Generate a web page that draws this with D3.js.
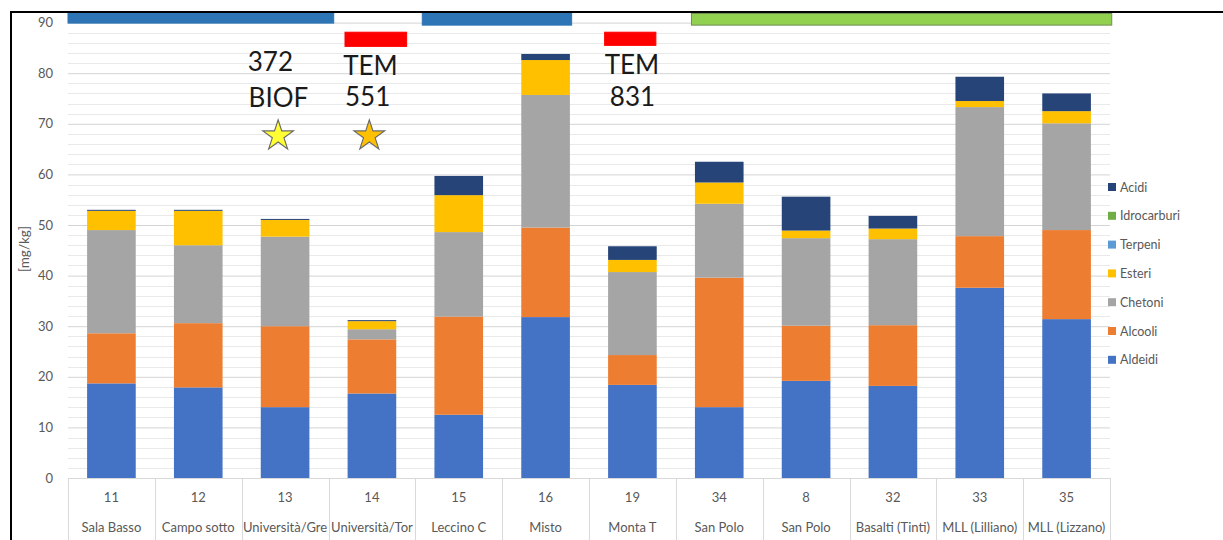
<!DOCTYPE html>
<html>
<head>
<meta charset="utf-8">
<script src="https://cdn.jsdelivr.net/npm/d3@7"></script>
<style>
  body { margin: 0; background: #fff; }
  svg { display: block; font-family: Lato, "Open Sans", sans-serif; }
</style>
</head>
<body>
<div id="chart"></div>
<script>
// categories (code + site name)
var codes = ["11", "12", "13", "14", "15", "16", "19", "34", "8", "32", "33", "35"];
var sites = ["Sala Basso", "Campo sotto", "Università/Gre", "Università/Tor", "Leccino C", "Misto",
             "Monta T", "San Polo", "San Polo", "Basalti (Tinti)", "MLL (Lilliano)", "MLL (Lizzano)"];

// series values [mg/kg], stacked bottom to top
var aldeidi     = [18.7, 17.9, 14.0, 16.7, 12.5, 31.8, 18.4, 14.0, 19.2, 18.2, 37.6, 31.4];
var alcooli     = [ 9.9, 12.7, 16.0, 10.7, 19.4, 17.7,  5.9, 25.6, 10.9, 12.0, 10.2, 17.6];
var chetoni     = [20.4, 15.4, 17.7,  2.0, 16.7, 26.2, 16.4, 14.6, 17.3, 17.0, 25.5, 21.1];
var esteri      = [ 3.8,  6.8,  3.3,  1.6,  7.3,  6.9,  2.4,  4.2,  1.5,  2.1,  1.2,  2.4];
var terpeni     = [ 0,    0,    0,    0,    0,    0,    0,    0,    0,    0,    0,    0  ];
var idrocarburi = [ 0,    0,    0,    0,    0,    0,    0,    0,    0,    0,    0,    0  ];
var acidi       = [ 0.2,  0.2,  0.2,  0.2,  3.8,  1.2,  2.7,  4.1,  6.7,  2.5,  4.8,  3.5];

var seriesNames = ["Aldeidi", "Alcooli", "Chetoni", "Esteri", "Terpeni", "Idrocarburi", "Acidi"];
var seriesValues = [aldeidi, alcooli, chetoni, esteri, terpeni, idrocarburi, acidi];
var seriesColors = ["#4472C4", "#ED7D31", "#A5A5A5", "#FFC000", "#5B9BD5", "#70AD47", "#264478"];

var yTicks = [0, 10, 20, 30, 40, 50, 60, 70, 80, 90];

// annotations drawn over the chart (x in category units, y in mg/kg)
var spanBars = [
  {x0: 0.00, x1: 3.06, y0: 89.9, y1: 91.8, color: "#2E75B6", stroke: "#2E75B6"},
  {x0: 4.08, x1: 5.80, y0: 89.5, y1: 91.8, color: "#2E75B6", stroke: "#2E75B6"},
  {x0: 7.18, x1: 12.02, y0: 89.5, y1: 91.8, color: "#92D050", stroke: "#6F8F55"},
  {x0: 3.19, x1: 3.90, y0: 85.3, y1: 88.1, color: "#FF0000", stroke: "#FF0000"},
  {x0: 6.18, x1: 6.77, y0: 85.5, y1: 88.1, color: "#FF0000", stroke: "#FF0000"}
];
var noteTexts = [
  {x: 2.07, y: 80.4, text: "372"},
  {x: 2.08, y: 73.3, text: "BIOF"},
  {x: 3.17, y: 79.7, text: "TEM"},
  {x: 3.19, y: 73.6, text: "551"},
  {x: 6.18, y: 79.9, text: "TEM"},
  {x: 6.24, y: 73.5, text: "831"}
];
var stars = [
  {x: 2.42, y: 68.0, color: "#FFFF33"},
  {x: 3.47, y: 68.0, color: "#FFC000"}
];

var W = 1223, H = 540;
var svg = d3.select("#chart").append("svg").attr("width", W).attr("height", H);

var x = d3.scaleBand().domain(codes).range([68, 1110]).paddingInner(0.44).paddingOuter(0.22);
var xi = d3.scaleLinear().domain([0, codes.length]).range([68, 1110]);
var y = d3.scaleLinear().domain([0, 90]).range([478, 22.6]);

// outer frame
svg.append("rect")
  .attr("x", 11).attr("y", 12)
  .attr("width", W + 20).attr("height", H + 20)
  .style("fill", "none").style("stroke", "#000").style("stroke-width", 2);

// minor gridlines every 2
svg.append("g").selectAll("line")
  .data(d3.range(2, 91, 2).filter(function(d) { return d % 10 !== 0; }))
  .enter().append("line")
  .attr("x1", 68).attr("x2", 1110)
  .attr("y1", function(d) { return Math.round(y(d)) + 0.5; })
  .attr("y2", function(d) { return Math.round(y(d)) + 0.5; })
  .style("stroke", "#E9E9E9").style("stroke-width", 1);

// major gridlines
var yAxis = svg.append("g")
  .attr("transform", "translate(68,0)")
  .call(d3.axisLeft(y).tickValues(yTicks).tickSize(-1042).tickPadding(15));
yAxis.select(".domain").remove();
yAxis.selectAll(".tick line").style("stroke", "#D4D4D4");
yAxis.selectAll(".tick text")
  .style("font-family", "Lato, sans-serif").style("font-size", "13px").style("fill", "#595959");

// stacked bars
var table = codes.map(function(c, i) {
  var row = {code: c};
  seriesNames.forEach(function(s, k) { row[s] = seriesValues[k][i]; });
  return row;
});
var stacked = d3.stack().keys(seriesNames)(table);

svg.append("g").selectAll("g")
  .data(stacked)
  .enter().append("g")
  .style("fill", function(d, k) { return seriesColors[k]; })
  .selectAll("rect")
  .data(function(d) { return d; })
  .enter().append("rect")
  .attr("x", function(d) { return x(d.data.code); })
  .attr("width", x.bandwidth())
  .attr("y", function(d) { return y(d[1]); })
  .attr("height", function(d) { return y(d[0]) - y(d[1]); });

// category axis: baseline and separators
svg.append("line")
  .attr("x1", 68).attr("x2", 1110).attr("y1", 478.5).attr("y2", 478.5)
  .style("stroke", "#D9D9D9");
svg.append("g").selectAll("line")
  .data(d3.range(0, codes.length + 1))
  .enter().append("line")
  .attr("x1", function(d) { return Math.round(xi(d)) + 0.5; })
  .attr("x2", function(d) { return Math.round(xi(d)) + 0.5; })
  .attr("y1", 478).attr("y2", 540)
  .style("stroke", "#D9D9D9");

svg.append("g").selectAll("text")
  .data(codes)
  .enter().append("text")
  .attr("x", function(d) { return x(d) + x.bandwidth() / 2; })
  .attr("y", 502)
  .attr("text-anchor", "middle")
  .style("font-size", "13px").style("fill", "#595959")
  .text(function(d) { return d; });

svg.append("g").selectAll("text")
  .data(sites)
  .enter().append("text")
  .attr("x", function(d, i) { return x(codes[i]) + x.bandwidth() / 2; })
  .attr("y", 532)
  .attr("text-anchor", "middle")
  .style("font-size", "13px").style("fill", "#595959")
  .text(function(d) { return d; });

// y title
svg.append("text")
  .attr("transform", "translate(29,249) rotate(-90)")
  .attr("text-anchor", "middle")
  .style("font-size", "13.5px").style("fill", "#595959")
  .text("[mg/kg]");

// legend (top to bottom: Acidi ... Aldeidi)
var legend = svg.append("g").selectAll("g")
  .data(seriesNames.slice().reverse())
  .enter().append("g")
  .attr("transform", function(d, i) { return "translate(1108," + (187 + i * 28.8) + ")"; });
legend.append("rect")
  .attr("x", 0).attr("y", -4).attr("width", 8).attr("height", 8)
  .style("fill", function(d) { return seriesColors[seriesNames.indexOf(d)]; });
legend.append("text")
  .attr("x", 12).attr("y", 4.5)
  .style("font-size", "12.5px").style("fill", "#595959")
  .text(function(d) { return d; });

// annotation bars
svg.append("g").selectAll("rect")
  .data(spanBars)
  .enter().append("rect")
  .attr("x", function(d) { return xi(d.x0); })
  .attr("width", function(d) { return xi(d.x1) - xi(d.x0); })
  .attr("y", function(d) { return y(d.y1); })
  .attr("height", function(d) { return y(d.y0) - y(d.y1); })
  .style("fill", function(d) { return d.color; })
  .style("stroke", function(d) { return d.stroke; })
  .style("stroke-width", 1);

svg.append("g").selectAll("text")
  .data(noteTexts)
  .enter().append("text")
  .attr("x", function(d) { return xi(d.x); })
  .attr("y", function(d) { return y(d.y); })
  .style("font-size", "26px").style("fill", "#1a1a1a")
  .text(function(d) { return d.text; });

svg.append("g").selectAll("path")
  .data(stars)
  .enter().append("path")
  .attr("transform", function(d) { return "translate(" + xi(d.x) + "," + (y(d.y) + 2) + ")"; })
  .attr("d", d3.symbol().type(d3.symbolStar).size(290))
  .style("fill", function(d) { return d.color; })
  .style("stroke", "#6b6b6b").style("stroke-width", 1.2);
</script>
</body>
</html>
